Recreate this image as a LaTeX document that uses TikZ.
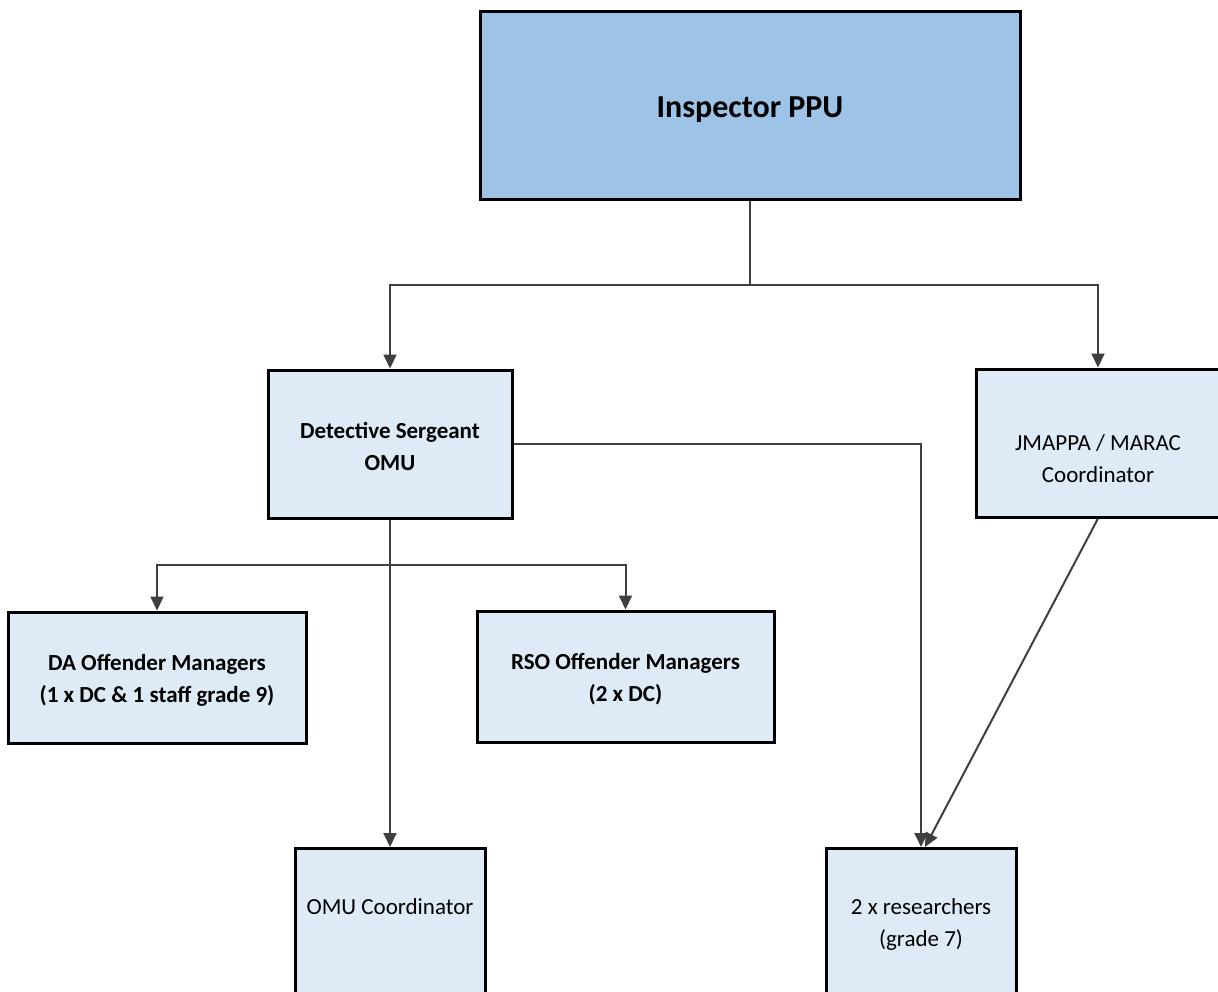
\documentclass[tikz,border=0pt]{standalone}
\usepackage{fontspec}
\setmainfont{Carlito}
\usetikzlibrary{arrows.meta}
\definecolor{darkbox}{HTML}{9DC3E6}
\definecolor{lightbox}{HTML}{DEEBF7}
\definecolor{connc}{HTML}{3F3F3F}
\tikzset{
  box/.style={draw=black, line width=3pt, fill=lightbox, inner sep=0pt},
  txt/.style={inner sep=0pt, align=center, font=\fontsize{23}{32}\selectfont},
  boldtxt/.style={txt, font=\bfseries\fontsize{23}{32}\selectfont},
  conn/.style={draw=connc, line width=2pt, -{Triangle[length=14pt,width=13pt]}},
}
\begin{document}
\begin{tikzpicture}[x=1pt,y=-1pt]
\useasboundingbox (0,0) rectangle (1218,992);
\fill[white] (0,0) rectangle (1218,992);
% boxes
\node[box, fill=darkbox, minimum width=540pt, minimum height=188pt] (insp) at (750,106) {};
\node[box, minimum width=244pt, minimum height=148pt] (ds) at (390,444) {};
\node[box, minimum width=244pt, minimum height=148pt] (jm) at (1098,443) {};
\node[box, minimum width=298pt, minimum height=131pt] (da) at (157,677.5) {};
\node[box, minimum width=297pt, minimum height=131pt] (rso) at (625.5,676.5) {};
\node[box, minimum width=190pt, minimum height=180pt, anchor=north] (omu) at (390,847) {};
\node[box, minimum width=190pt, minimum height=180pt, anchor=north] (res) at (921,847) {};
% texts
\node[txt, font=\bfseries\fontsize{32}{38}\selectfont] (inspt) at (750,110) {Inspector PPU};
\node[boldtxt] (dst) at (390,446) {Detective Sergeant\\OMU};
\node[txt] (jmt) at (1098,459) {JMAPPA / MARAC\\Coordinator};
\node[boldtxt] (dat) at (157,680.5) {DA Offender Managers\\(1 x DC \& 1 staff grade 9)};
\node[boldtxt] (rsot) at (625.5,679.5) {RSO Offender Managers\\(2 x DC)};
\node[txt, anchor=north] (omut) at (390,898) {OMU Coordinator};
\node[txt, anchor=north] (rest) at (921,898) {2 x researchers\\(grade 7)};
% junctions
\coordinate (j1) at (750,285);
\coordinate (j2) at (390,565);
% connectors
\draw[conn] (insp.south) -- (j1) -| (ds.north);
\draw[conn] (j1) -| (jm.north);
\draw[conn] (ds.south) -- (omu.north);
\draw[conn] (j2) -| (da.north);
\draw[conn] (j2) -| (rso.north);
\draw[conn] (ds.east) -| (res.north);
\draw[conn] (jm.south) -- ([xshift=4pt]res.north);
\end{tikzpicture}
\end{document}
